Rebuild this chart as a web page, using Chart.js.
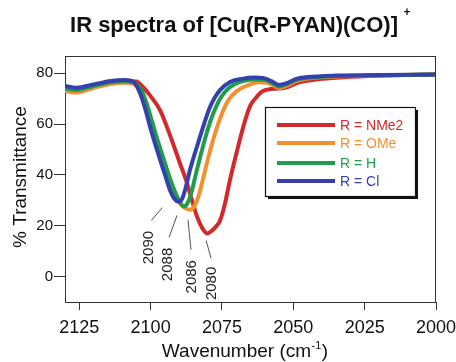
<!DOCTYPE html>
<html><head><meta charset="utf-8">
<script src="https://cdn.jsdelivr.net/npm/chart.js@4.4.1/dist/chart.umd.min.js"></script>
<style>html,body{margin:0;padding:0;background:#fff;}#wrap{width:456px;height:362px;}</style>
</head><body><div id="wrap"><canvas id="c" width="456" height="362"></canvas></div>
<script>
const chartTitle = 'IR spectra of [Cu(R-PYAN)(CO)]';
const titleCharge = '+';
const xTitle = 'Wavenumber (cm';
const xTitleSup = '-1';
const yTitle = '% Transmittance';
const seriesNames = ['R = NMe2', 'R = OMe', 'R = H', 'R = Cl'];
const seriesColors = ['#d5282c', '#f29030', '#1f9d4c', '#3441ad'];
const peakLabels = ['2080', '2086', '2088', '2090'];
const xTicks = [2125, 2100, 2075, 2050, 2025, 2000];
const yTicks = [0, 20, 40, 60, 80];

const nme2Wn = [2130,2126,2120,2114,2109,2105,2103,2100,2096.7,2094.5,2092.2,2089.7,2087.3,2085.5,2083.7,2082,2080.2,2078.4,2077,2075.7,2074,2072.2,2070.5,2068.7,2067,2065.2,2063,2061,2058,2055,2052,2048,2040,2030,2015,2000];
const nme2T  = [73.5,73,74.8,76.5,77,76.8,75,71,65.5,59.5,52.5,44.5,37,30,23.5,19.3,17,18.2,19.8,22,28.5,38,46,54,61,67,70.5,72.8,73.8,74,74.6,76.4,77.8,78.6,79.2,79.5];

const omeWn = [2130,2126,2120,2114,2109,2106,2103.8,2101.8,2100,2098,2096,2094,2092,2090,2088,2086.2,2084.5,2083,2081.5,2080,2078.3,2076.5,2074.5,2072.5,2070,2066,2062,2059,2057,2055,2052.5,2049,2045,2035,2020,2000];
const omeT  = [73,72.4,74.2,75.8,76.3,75.8,73,67,60.5,53,46,39.5,33.5,29.3,27,26.3,28,32.5,39,46,53,59.5,65.5,69.8,72.8,75.3,76.5,76.2,75.2,74.2,75,76.9,77.9,78.7,79.1,79.5];

const hWn = [2130,2126,2120,2114,2109,2106,2103.5,2101.5,2099.5,2097.5,2095.5,2093.5,2091.5,2089.8,2088.3,2086.8,2085.5,2084,2082.3,2080.6,2078.8,2077,2075.2,2072.5,2069,2064,2060,2057.5,2055,2052.5,2049,2045,2035,2020,2000];
const hT  = [74,73.4,75,76.5,76.9,76.4,74,68.5,61,53.5,46.5,39.5,33.5,29.5,27.6,29.5,34,41,48.5,55.5,62,67,70.8,74.3,76.5,77.6,77.5,76.3,74.8,75.6,77.4,78.2,78.9,79.2,79.5];

const clWn = [2130,2126,2120,2114,2109,2106,2104,2102,2100.2,2098.5,2096.7,2094.8,2093.2,2091.6,2090.3,2089,2087.7,2086.2,2084.5,2082.7,2081,2079.2,2077.5,2075.7,2072.2,2068,2064,2060,2057.5,2055,2052.5,2049,2045,2035,2020,2000];
const clT  = [75,74.3,75.6,77,77.4,76.6,73,66.5,59,52.5,46,39.5,34,30.5,29.5,30.5,35,42,48.5,55,61,66.7,70.5,73.4,76.6,77.8,78.3,78,76.8,75.4,76,77.8,78.5,79.1,79.3,79.5];

const seriesWn = [nme2Wn, omeWn, hWn, clWn];
const seriesT = [nme2T, omeT, hT, clT];

const FONT = '"Liberation Sans", Arial, sans-serif';

const datasets = seriesNames.map((name, i) => ({
  label: name,
  data: seriesWn[i].map((w, j) => ({x: w, y: seriesT[i][j]})),
  borderColor: seriesColors[i],
  backgroundColor: seriesColors[i],
  borderWidth: 4,
  pointRadius: 0,
  fill: false,
  cubicInterpolationMode: 'monotone',
  order: 3 - i
}));

const decorPlugin = {
  id: 'decor',
  afterDatasetsDraw(chart) {
    const ctx = chart.ctx;
    const a = chart.chartArea;
    const xs = chart.scales.x, ys = chart.scales.y;
    ctx.save();
    ctx.strokeStyle = '#333';
    ctx.lineWidth = 1;
    ctx.beginPath();
    ctx.moveTo(a.left, a.top + 0.5); ctx.lineTo(a.right, a.top + 0.5);
    ctx.moveTo(a.right - 0.5, a.top); ctx.lineTo(a.right - 0.5, a.bottom);
    ctx.stroke();

    const offs = [
      {s:[-1,7], e:[4,25], t:[5,50]},
      {s:[-2,10], e:[1,40], t:[2,67]},
      {s:[-7,9], e:[-15,31], t:[-16,58]},
      {s:[-16,6], e:[-27,19], t:[-29,46]}
    ];
    peakLabels.forEach((lab, i) => {
      const t = seriesT[i];
      let k = 0;
      for (let j = 1; j < t.length; j++) if (t[j] < t[k]) k = j;
      const px = xs.getPixelForValue(seriesWn[i][k]);
      const py = ys.getPixelForValue(t[k]);
      const o = offs[i];
      ctx.strokeStyle = '#555';
      ctx.lineWidth = 1;
      ctx.beginPath();
      ctx.moveTo(px + o.s[0], py + o.s[1]);
      ctx.lineTo(px + o.e[0], py + o.e[1]);
      ctx.stroke();
      ctx.save();
      ctx.translate(px + o.t[0], py + o.t[1]);
      ctx.rotate(-Math.PI / 2);
      ctx.fillStyle = '#222';
      ctx.font = '15px ' + FONT;
      ctx.textAlign = 'center';
      ctx.textBaseline = 'middle';
      ctx.fillText(lab, 0, 0);
      ctx.restore();
    });

    const lx = 265, ly = 107, lw = 150, lh = 89;
    ctx.fillStyle = '#111';
    ctx.fillRect(lx + 3, ly + 3, lw, lh);
    ctx.fillStyle = '#fff';
    ctx.fillRect(lx, ly, lw, lh);
    ctx.strokeStyle = '#111';
    ctx.lineWidth = 1.2;
    ctx.strokeRect(lx + 0.5, ly + 0.5, lw, lh);
    const rowY = [125, 143, 163, 181];
    seriesNames.forEach((name, i) => {
      ctx.strokeStyle = seriesColors[i];
      ctx.lineWidth = 4;
      ctx.beginPath();
      ctx.moveTo(277, rowY[i]); ctx.lineTo(335, rowY[i]);
      ctx.stroke();
      ctx.fillStyle = seriesColors[i];
      ctx.font = '14px ' + FONT;
      ctx.textAlign = 'left';
      ctx.textBaseline = 'middle';
      ctx.fillText(name, 340, rowY[i] + 1);
    });
    ctx.restore();
  },
  afterDraw(chart) {
    const ctx = chart.ctx;
    ctx.save();
    ctx.fillStyle = '#111';
    ctx.font = 'bold 22px ' + FONT;
    ctx.textAlign = 'center';
    ctx.textBaseline = 'middle';
    ctx.fillText(chartTitle, 234, 26);
    ctx.font = 'bold 12px ' + FONT;
    ctx.fillText(titleCharge, 407, 13);

    ctx.save();
    ctx.translate(21, 177);
    ctx.rotate(-Math.PI / 2);
    ctx.font = '19px ' + FONT;
    ctx.textAlign = 'center';
    ctx.textBaseline = 'middle';
    ctx.fillText(yTitle, 0, 0);
    ctx.restore();

    ctx.font = '19px ' + FONT;
    const w1 = ctx.measureText(xTitle).width;
    ctx.font = '11px ' + FONT;
    const w2 = ctx.measureText(xTitleSup).width;
    ctx.font = '19px ' + FONT;
    const w3 = ctx.measureText(')').width;
    const total = w1 + w2 + w3 + 1;
    let x0 = 245 - total / 2;
    const base = 357;
    ctx.textAlign = 'left';
    ctx.textBaseline = 'alphabetic';
    ctx.fillText(xTitle, x0, base);
    ctx.font = '11px ' + FONT;
    ctx.fillText(xTitleSup, x0 + w1 + 0.5, base - 8);
    ctx.font = '19px ' + FONT;
    ctx.fillText(')', x0 + w1 + w2 + 1, base);
    ctx.restore();
  }
};

new Chart(document.getElementById('c'), {
  type: 'line',
  data: {datasets},
  options: {
    responsive: false,
    devicePixelRatio: 1,
    animation: false,
    layout: {padding: {top: 56, right: 20, left: 0, bottom: 0}},
    plugins: {legend: {display: false}, tooltip: {enabled: false}, title: {display: false}},
    scales: {
      x: {
        type: 'linear', reverse: true, min: 2000, max: 2130, position: 'bottom',
        afterBuildTicks: s => { s.ticks = xTicks.map(v => ({value: v})); },
        afterFit: s => { s.height = 60; s.paddingLeft = 0; s.paddingRight = 0; },
        ticks: {font: {size: 18, family: FONT}, color: '#111', padding: 7, maxRotation: 0, autoSkip: false,
                callback: v => String(v)},
        grid: {drawOnChartArea: false, drawTicks: true, tickLength: 8, color: '#333', tickWidth: 1},
        border: {display: true, color: '#333', width: 1},
        title: {display: false}
      },
      y: {
        type: 'linear', min: -10, max: 86.8,
        afterBuildTicks: s => { s.ticks = yTicks.map(v => ({value: v})); },
        afterFit: s => { s.width = 65; s.paddingTop = 0; s.paddingBottom = 0; },
        ticks: {font: {size: 15, family: FONT}, color: '#111', padding: 1, callback: v => String(v)},
        grid: {drawOnChartArea: false, drawTicks: true, tickLength: 11, color: '#333', tickWidth: 1},
        border: {display: true, color: '#333', width: 1},
        title: {display: false}
      }
    }
  },
  plugins: [decorPlugin]
});
</script>
</body></html>
